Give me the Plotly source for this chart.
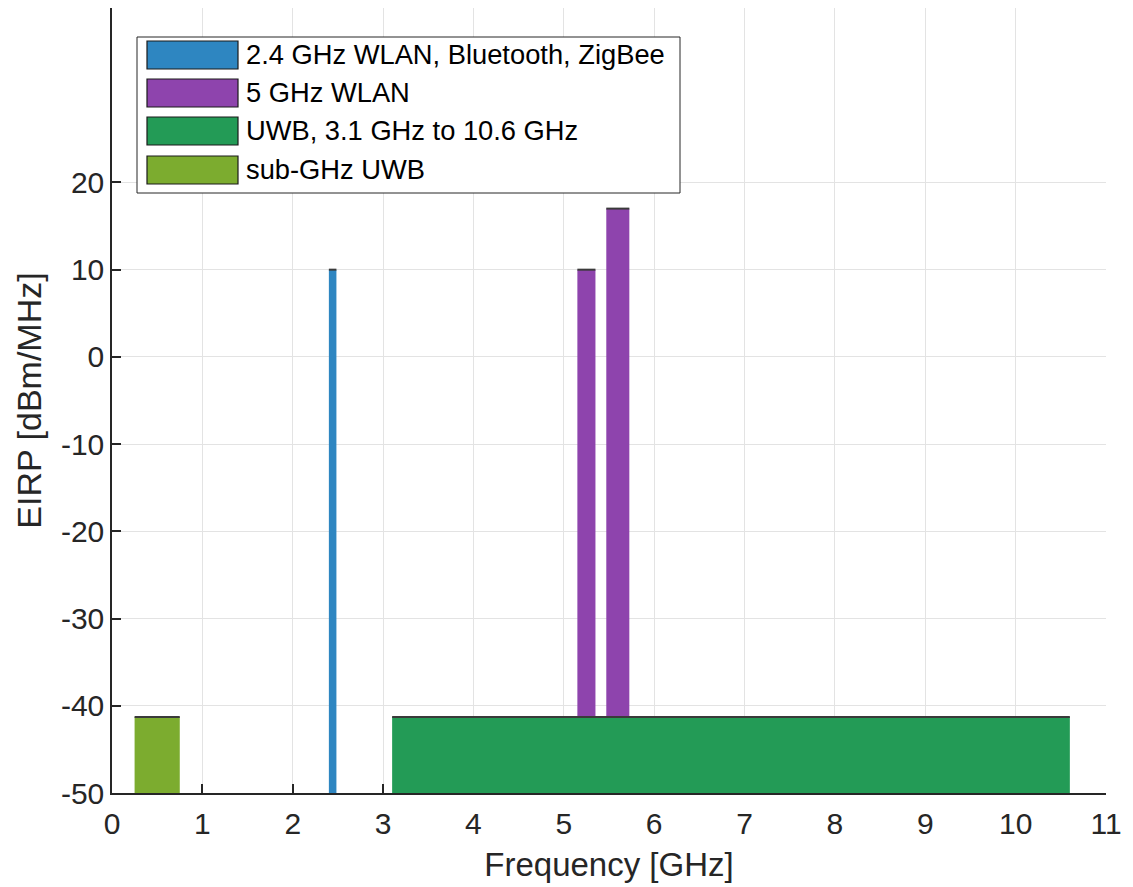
import plotly.graph_objects as go

# Frequency bands and their EIRP limits
band_names = [
    "2.4 GHz WLAN, Bluetooth, ZigBee",
    "5 GHz WLAN",
    "UWB, 3.1 GHz to 10.6 GHz",
    "sub-GHz UWB",
]
band_colors = ["#2E86C1", "#8E44AD", "#239B56", "#7CAC2F"]

# start / stop frequency [GHz] and EIRP level [dBm/MHz] for each segment
wlan24_lo = [2.4]
wlan24_hi = [2.4835]
wlan24_eirp = [10]

wlan5_lo = [5.15, 5.47]
wlan5_hi = [5.35, 5.725]
wlan5_eirp = [10, 17]

uwb_lo = [3.1]
uwb_hi = [10.6]
uwb_eirp = [-41.3]

subghz_lo = [0.25]
subghz_hi = [0.75]
subghz_eirp = [-41.3]

x_ticks = list(range(0, 12))
y_ticks = [-50, -40, -30, -20, -10, 0, 10, 20]
y_tick_text = ["-50", "-40", "-30", "-20", "-10", "0", "10", "20"]
y_floor = -50
y_ceiling = 40

segments = [
    (wlan5_lo, wlan5_hi, wlan5_eirp, 1),
    (wlan24_lo, wlan24_hi, wlan24_eirp, 0),
    (uwb_lo, uwb_hi, uwb_eirp, 2),
    (subghz_lo, subghz_hi, subghz_eirp, 3),
]

FONT = "Liberation Sans, Arial, Helvetica, sans-serif"
W, H = 1133, 887
ML, MR, MT, MB = 112, 27, 8, 94
PW = W - ML - MR
PH = H - MT - MB

fig = go.Figure()

for lo, hi, eirp, idx in segments:
    for a, b, lvl in zip(lo, hi, eirp):
        fig.add_trace(go.Scatter(
            x=[a, a, b, b, a],
            y=[y_floor, lvl, lvl, y_floor, y_floor],
            mode="lines",
            fill="toself",
            fillcolor=band_colors[idx],
            line=dict(width=0, color=band_colors[idx]),
            hoverinfo="skip",
            showlegend=False,
        ))
        # dark top edge of the block
        fig.add_trace(go.Scatter(
            x=[a, b],
            y=[lvl, lvl],
            mode="lines",
            line=dict(width=2, color="#3a3a3a"),
            hoverinfo="skip",
            showlegend=False,
        ))


def px_x(p):
    return (p - ML) / PW


def px_y(p):
    return (H - MB - p) / PH


# legend box drawn in paper coordinates
shapes = [dict(
    type="rect", xref="paper", yref="paper",
    x0=px_x(137), x1=px_x(680), y0=px_y(193), y1=px_y(37),
    line=dict(color="#262626", width=1), fillcolor="white", layer="above",
)]
annotations = []
row_centers = [55, 93, 131, 170]
for name, color, yc in zip(band_names, band_colors, row_centers):
    shapes.append(dict(
        type="rect", xref="paper", yref="paper",
        x0=px_x(147), x1=px_x(238), y0=px_y(yc + 14), y1=px_y(yc - 14),
        line=dict(color="#1a1a1a", width=1.2), fillcolor=color, layer="above",
    ))
    annotations.append(dict(
        xref="paper", yref="paper", x=px_x(244), y=px_y(yc),
        xanchor="left", yanchor="middle", showarrow=False,
        text=name, font=dict(family=FONT, size=27.3, color="#000000"),
    ))

axis_common = dict(
    showgrid=True,
    gridcolor="#e3e3e3",
    gridwidth=1,
    zeroline=False,
    showline=True,
    linecolor="#262626",
    linewidth=1.5,
    ticks="inside",
    ticklen=9,
    tickwidth=1.5,
    tickcolor="#262626",
    tickfont=dict(family=FONT, size=30, color="#262626"),
    layer="below traces",
)

fig.update_layout(
    width=W,
    height=H,
    margin=dict(l=ML, r=MR, t=MT, b=MB),
    paper_bgcolor="white",
    plot_bgcolor="white",
    showlegend=False,
    xaxis=dict(
        range=[0, 11],
        tickvals=x_ticks,
        ticklabelstandoff=3,
        title=dict(text="Frequency [GHz]", standoff=14,
                   font=dict(family=FONT, size=33, color="#262626")),
        **axis_common,
    ),
    yaxis=dict(
        range=[y_floor, y_ceiling],
        tickvals=y_ticks,
        ticktext=y_tick_text,
        title=dict(text="EIRP [dBm/MHz]", standoff=9,
                   font=dict(family=FONT, size=34, color="#262626")),
        **axis_common,
    ),
    shapes=shapes,
    annotations=annotations,
)

fig.write_html("out.html")
